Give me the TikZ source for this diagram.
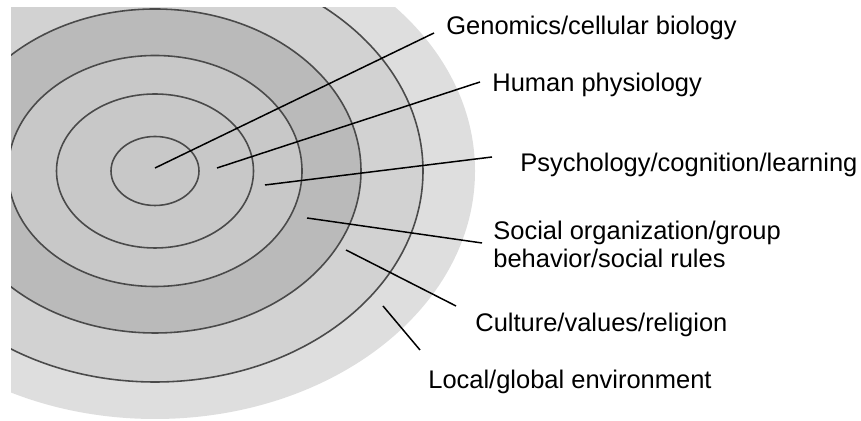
\documentclass[tikz,border=0pt]{standalone}
\usepackage{fontspec}
\setmainfont{Liberation Sans}
\usepackage[]{tikz}
\usepackage[]{xcolor}
\definecolor{ringline}{HTML}{4A4A4A}
\definecolor{zoneA}{HTML}{C8C8C8}
\definecolor{zoneB}{HTML}{BABABA}
\definecolor{zoneC}{HTML}{D2D2D2}
\definecolor{zoneD}{HTML}{DEDEDE}
\tikzset{ring/.style = {draw=ringline, line width=0.9pt}}
\tikzset{lbl/.style = {anchor=base west, inner sep=0, font=\fontsize{14.5}{16}\selectfont, align=left}}
\tikzset{lead/.style = {draw=black, line width=0.85pt}}

\begin{document}
\begin{tikzpicture}[x=0.02cm,y=0.02cm]
        \useasboundingbox (0,0) rectangle (861,421);
        \begin{scope}
        \clip (11,0) rectangle (861,413);
        \fill [zoneD] (155,250) ellipse [x radius=320, y radius=248];
        \filldraw [ring, fill=zoneC] (155,250) ellipse [x radius=268, y radius=211];
        \filldraw [ring, fill=zoneB] (155,250) ellipse [x radius=206, y radius=162];
        \filldraw [ring, fill=zoneA] (155,250) ellipse [x radius=147, y radius=115.5];
        \draw [ring] (155,250) ellipse [x radius=98.5, y radius=77];
        \draw [ring] (155,250) ellipse [x radius=44, y radius=34.5];
        \end{scope}
        % labels
        \node [lbl] (genomics) at (446,386) {Genomics/cellular biology};
        \node [lbl] (physio) at (492,329) {Human physiology};
        \node [lbl] (psych) at (520,249) {Psychology/cognition/learning};
        \node [lbl] (social) at (493,153) {Social organization/group\\behavior/social rules};
        \node [lbl] (culture) at (475,89) {Culture/values/religion};
        \node [lbl] (environ) at (428,32) {Local/global environment};
        % leader lines
        \coordinate (genomicsIn) at (155,253);
        \coordinate (genomicsOut) at (434,388);
        \coordinate (physioIn) at (217,253);
        \coordinate (physioOut) at (480,339);
        \coordinate (psychIn) at (265,236);
        \coordinate (psychOut) at (492,264);
        \coordinate (socialIn) at (307,203);
        \coordinate (socialOut) at (482,178);
        \coordinate (cultureIn) at (346,171);
        \coordinate (cultureOut) at (456,115);
        \coordinate (environIn) at (383,115);
        \coordinate (environOut) at (420,71);
        \draw [lead] (genomicsIn)--(genomicsOut);
        \draw [lead] (physioIn)--(physioOut);
        \draw [lead] (psychIn)--(psychOut);
        \draw [lead] (socialIn)--(socialOut);
        \draw [lead] (cultureIn)--(cultureOut);
        \draw [lead] (environIn)--(environOut);
    \end{tikzpicture}
\end{document}
